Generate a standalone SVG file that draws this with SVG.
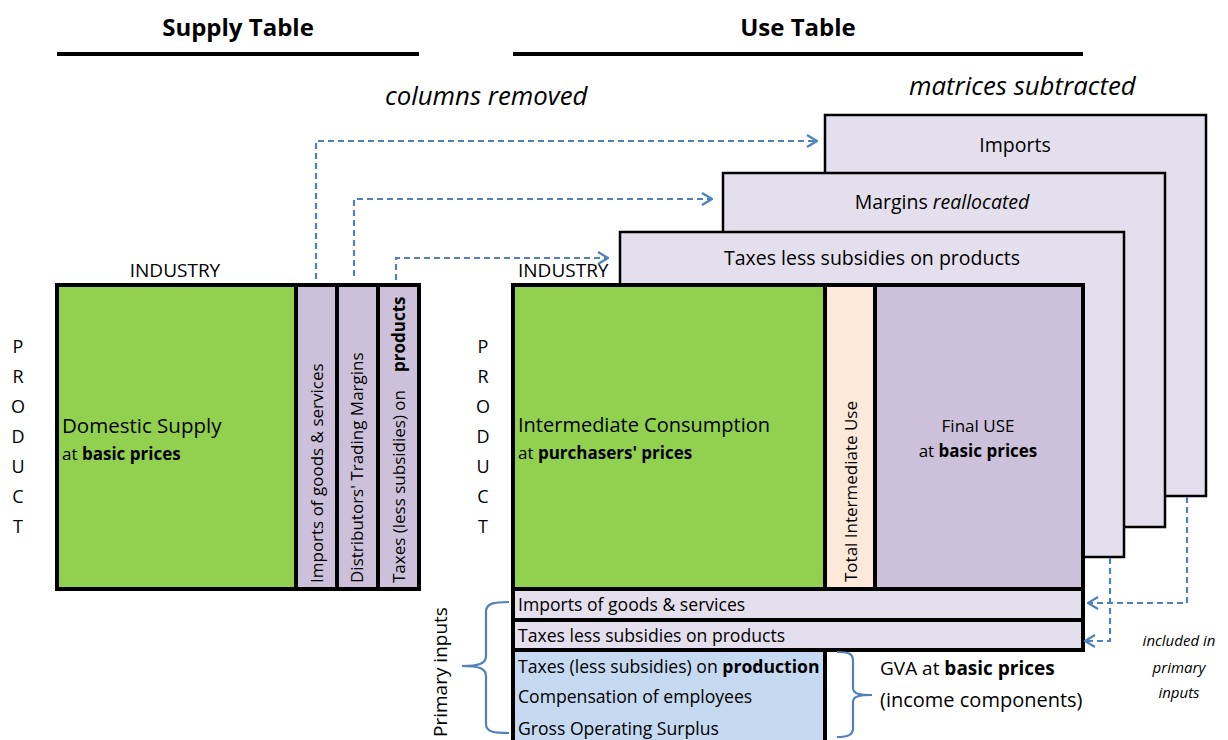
<svg xmlns="http://www.w3.org/2000/svg" width="1228" height="740" viewBox="0 0 1228 740">
<defs>
<style>
text{font-family:"Open Sans",Lato,"Liberation Sans",sans-serif;fill:#000}
.h{font-size:24px;font-weight:bold;text-anchor:middle}
.it{font-style:italic;font-size:25.8px}
.s16{font-size:17px}
.r16{font-size:17.6px}
.s18{font-size:19.5px}
.ind{font-size:19px}
.b{font-weight:bold}
.lav{fill:#E4DFEC;stroke:#000;stroke-width:2.5}
.col{fill:#CCC0DA}
.dash{fill:none;stroke:#4F81BD;stroke-width:2.2;stroke-dasharray:6 4}
.brace{fill:none;stroke:#4F81BD;stroke-width:2.2}
.thick{stroke:#000;stroke-width:4;fill:none}
</style>
<marker id="ah" viewBox="0 0 12 14" refX="11" refY="7" markerWidth="12" markerHeight="14" markerUnits="userSpaceOnUse" orient="auto">
<path d="M1,1 L11,7 L1,13" fill="none" stroke="#4F81BD" stroke-width="2.2"/>
</marker>
</defs>
<rect width="1228" height="740" fill="#fff"/>

<g id="headers">
<text class="h" x="238" y="36">Supply Table</text>
<line x1="57" y1="54" x2="419" y2="54" stroke="#000" stroke-width="4"/>
<text class="h" x="798" y="36">Use Table</text>
<line x1="513" y1="54" x2="1083" y2="54" stroke="#000" stroke-width="4"/>
<text class="it" x="385" y="105">columns removed</text>
<text class="it" x="909" y="95">matrices subtracted</text>
</g>

<g id="supply-labels">
<text class="ind" x="175" y="277" text-anchor="middle">INDUSTRY</text>
<text text-anchor="middle" style="font-size:18px">
<tspan x="18" y="353">P</tspan><tspan x="18" y="383">R</tspan><tspan x="18" y="413">O</tspan><tspan x="18" y="443">D</tspan><tspan x="18" y="473">U</tspan><tspan x="18" y="503">C</tspan><tspan x="18" y="533">T</tspan>
</text>
</g>

<g id="supply-table">
<rect x="57" y="285" width="239" height="304" fill="#92D050"/>
<rect x="296" y="285" width="123" height="304" class="col"/>
<line x1="296" y1="285" x2="296" y2="589" class="thick"/>
<line x1="337" y1="285" x2="337" y2="589" class="thick"/>
<line x1="378" y1="285" x2="378" y2="589" class="thick"/>
<rect x="57" y="285" width="362" height="304" class="thick"/>
<text x="62" y="433" style="font-size:20.5px">Domestic Supply</text>
<text x="62" y="460" class="s16">at <tspan class="b">basic prices</tspan></text>
<text class="s16" transform="translate(323,583) rotate(-90)">Imports of goods &amp; services</text>
<text class="s16" transform="translate(363,583) rotate(-90)">Distributors' Trading Margins</text>
<text class="s16" transform="translate(405,583) rotate(-90)">Taxes (less subsidies) on</text>
<text class="s16 b" transform="translate(405,372) rotate(-90)">products</text>
</g>

<g id="imports-matrix">
<rect x="825" y="115" width="381" height="381" class="lav"/>
<text class="s18" x="1015" y="152" text-anchor="middle">Imports</text>
</g>
<g id="margins-matrix">
<rect x="723" y="173" width="442" height="354" class="lav"/>
<text class="s18" x="942" y="209" text-anchor="middle">Margins <tspan font-style="italic">reallocated</tspan></text>
</g>
<g id="taxes-matrix">
<rect x="620" y="232" width="504" height="325" class="lav"/>
<text class="s18" x="872" y="265" text-anchor="middle">Taxes less subsidies on products</text>
</g>

<g id="use-labels">
<text class="ind" x="518" y="277">INDUSTRY</text>
<text text-anchor="middle" style="font-size:18px">
<tspan x="483" y="353">P</tspan><tspan x="483" y="383">R</tspan><tspan x="483" y="413">O</tspan><tspan x="483" y="443">D</tspan><tspan x="483" y="473">U</tspan><tspan x="483" y="503">C</tspan><tspan x="483" y="533">T</tspan>
</text>
</g>

<g id="use-table">
<rect x="513" y="285" width="312" height="304" fill="#92D050"/>
<rect x="825" y="285" width="50" height="304" fill="#FDE9D9"/>
<rect x="875" y="285" width="208" height="304" class="col"/>
<line x1="825" y1="285" x2="825" y2="589" class="thick"/>
<line x1="875" y1="285" x2="875" y2="589" class="thick"/>
<rect x="513" y="285" width="570" height="304" class="thick"/>
<text x="518" y="432" style="font-size:20px">Intermediate Consumption</text>
<text x="518" y="459" class="s16">at <tspan class="b">purchasers' prices</tspan></text>
<text class="s16" transform="translate(857,582) rotate(-90)">Total Intermediate Use</text>
<text class="s16" x="978" y="432" text-anchor="middle">Final USE</text>
<text class="s16" x="978" y="457" text-anchor="middle">at <tspan class="b">basic prices</tspan></text>
</g>

<g id="row-imports">
<rect x="513" y="589" width="570" height="31" class="thick" style="fill:#E4DFEC"/>
<text class="r16" x="518" y="611">Imports of goods &amp; services</text>
</g>
<g id="row-taxes">
<rect x="513" y="620" width="570" height="30" class="thick" style="fill:#E4DFEC"/>
<text class="r16" x="518" y="642">Taxes less subsidies on products</text>
</g>
<g id="row-gva">
<rect x="513" y="650" width="312" height="95" fill="#C5D9F1"/>
<path d="M513,650 V745 M825,650 V745 M511,650 H827" class="thick"/>
<text class="r16" x="518" y="673">Taxes (less subsidies) on <tspan class="b">production</tspan></text>
<text class="r16" x="518" y="703">Compensation of employees</text>
<text class="r16" x="518" y="735">Gross Operating Surplus</text>
</g>

<g id="connectors">
<path d="M316,279 V141 H817" class="dash" marker-end="url(#ah)"/>
<path d="M354,276 V199 H712" class="dash" marker-end="url(#ah)"/>
<path d="M396,280 V258 H608" class="dash" marker-end="url(#ah)"/>
<path d="M1187,497 V603 H1088" class="dash" marker-end="url(#ah)"/>
<path d="M1110,558 V641 H1085" class="dash" marker-end="url(#ah)"/>
<path d="M509,602 C494,602 486,603 486,612 V656 C486,664 478,666 462,666 C478,666 486,668 486,676 V724 C486,732 494,733 509,733" class="brace"/>
<path d="M837,652 C848,652 853,653 853,661 V688 C853,694 860,695 872,695 C860,695 853,696 853,702 V728 C853,735 848,737 837,737" class="brace"/>
</g>

<g id="annotations">
<text transform="translate(447,737) rotate(-90)" style="font-size:19px">Primary inputs</text>
<text x="880" y="675" style="font-size:19px">GVA at <tspan class="b">basic prices</tspan></text>
<text x="880" y="707" style="font-size:20px">(income components)</text>
<text x="1179" y="646" text-anchor="middle" style="font-size:15px;font-style:italic">included in</text>
<text x="1179" y="673" text-anchor="middle" style="font-size:15px;font-style:italic">primary</text>
<text x="1179" y="698" text-anchor="middle" style="font-size:15px;font-style:italic">inputs</text>
</g>
</svg>
